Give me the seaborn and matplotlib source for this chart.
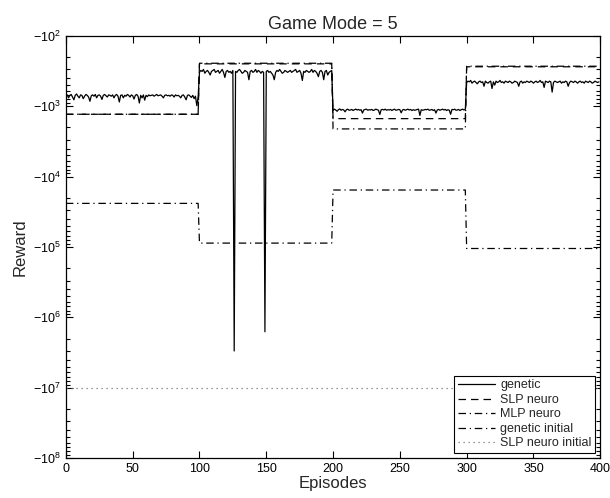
import numpy as np
import pandas as pd
import matplotlib
matplotlib.use("Agg")
import matplotlib.pyplot as plt
import seaborn as sns
from matplotlib.ticker import FuncFormatter, LogLocator

# segment boundaries (episodes)
seg_starts = [0, 100, 200, 300]
seg_len = 100

# genetic reward per episode, four segments
genetic_1 = [-720, -690, -760, -700, -680, -740, -810, -700, -670, -720,
             -760, -690, -700, -780, -720, -680, -700, -740, -850, -710,
             -690, -720, -680, -760, -700, -690, -720, -800, -700, -680,
             -710, -740, -690, -700, -720, -690, -760, -700, -680, -720,
             -870, -700, -690, -760, -700, -720, -680, -700, -740, -690,
             -710, -790, -700, -680, -720, -900, -700, -760, -690, -820,
             -700, -730, -690, -710, -700, -690, -720, -700, -680, -710,
             -700, -690, -720, -760, -700, -690, -710, -700, -720, -690,
             -700, -740, -690, -710, -700, -720, -760, -700, -690, -740,
             -810, -700, -690, -720, -750, -700, -780, -720, -980, -740]
genetic_2 = [-330, -310, -320, -300, -340, -320, -310, -330, -360, -320,
             -310, -300, -330, -320, -310, -340, -320, -300, -330, -390,
             -320, -310, -330, -320, -340, -310, -3000000, -320, -330, -310,
             -300, -320, -340, -330, -310, -320, -330, -420, -320, -310,
             -330, -320, -300, -330, -310, -320, -340, -320, -330, -1600000,
             -320, -310, -330, -320, -340, -360, -420, -330, -310, -320,
             -300, -320, -340, -330, -310, -320, -330, -320, -310, -330,
             -320, -310, -300, -330, -320, -310, -340, -430, -320, -330,
             -310, -320, -330, -320, -300, -330, -310, -320, -340, -380,
             -320, -310, -330, -420, -320, -310, -360, -330, -320, -310]
genetic_3 = [-1150, -1100, -1130, -1180, -1120, -1090, -1140, -1110, -1130, -1200,
             -1120, -1100, -1140, -1130, -1110, -1150, -1120, -1100, -1130, -1110,
             -1140, -1120, -1250, -1130, -1110, -1100, -1140, -1120, -1130, -1110,
             -1150, -1130, -1100, -1120, -1140, -1310, -1120, -1110, -1130, -1100,
             -1140, -1120, -1130, -1110, -1150, -1120, -1100, -1140, -1130, -1110,
             -1120, -1240, -1130, -1110, -1140, -1120, -1100, -1130, -1110, -1150,
             -1120, -1140, -1130, -1110, -1100, -1350, -1120, -1140, -1130, -1110,
             -1120, -1100, -1140, -1130, -1110, -1150, -1120, -1250, -1130, -1110,
             -1140, -1120, -1100, -1130, -1110, -1150, -1120, -1140, -1300, -1110,
             -1120, -1100, -1140, -1130, -1110, -1150, -1120, -1100, -1130, -1110]
genetic_4 = [-460, -440, -450, -430, -470, -450, -440, -460, -480, -450,
             -440, -460, -450, -520, -440, -460, -470, -450, -440, -560,
             -450, -500, -440, -460, -450, -430, -460, -450, -470, -440,
             -450, -460, -440, -450, -470, -460, -440, -450, -460, -520,
             -450, -440, -470, -450, -460, -440, -450, -460, -440, -450,
             -470, -450, -440, -460, -450, -430, -460, -450, -540, -440,
             -450, -460, -440, -450, -630, -460, -440, -450, -460, -450,
             -440, -470, -450, -460, -440, -450, -520, -460, -440, -450,
             -460, -440, -450, -470, -450, -440, -460, -450, -470, -440,
             -450, -460, -440, -450, -470, -460, -440, -450, -460, -450]

# flat levels per segment
slp_levels = [-1300, -250, -1500, -275]
mlp_levels = [-1300, -245, -2100, -270]
genetic_init_levels = [-24000, -88000, -15500, -105000]
slp_init_levels = [-1e7, -1e7, -1e7, -1e7]

episodes = np.arange(seg_starts[0], seg_starts[-1] + seg_len)
genetic = np.concatenate([genetic_1, genetic_2, genetic_3, genetic_4])


def level_frame(levels):
    xs, ys = [], []
    for s, v in zip(seg_starts, levels):
        xs += [s, s + seg_len - 1]
        ys += [v, v]
    return pd.DataFrame({"Episodes": xs, "Reward": -np.array(ys)})


sns.set_style("ticks")
plt.rcParams["font.family"] = ["Liberation Sans", "DejaVu Sans"]
plt.rcParams["mathtext.fontset"] = "custom"
plt.rcParams["mathtext.rm"] = "Liberation Sans"
plt.rcParams["mathtext.it"] = "Liberation Sans"
plt.rcParams["xtick.direction"] = "in"
plt.rcParams["ytick.direction"] = "in"

fig = plt.figure(figsize=(6.1, 4.98), dpi=100)
ax = fig.add_axes([0.108, 0.080, 0.876, 0.848])

gen_df = pd.DataFrame({"Episodes": episodes[:len(genetic)], "Reward": -genetic})
sns.lineplot(data=gen_df, x="Episodes", y="Reward", ax=ax, color="black",
             lw=0.9, linestyle="-", label="genetic")
sns.lineplot(data=level_frame(slp_levels), x="Episodes", y="Reward", ax=ax,
             color="black", lw=0.9, linestyle=(0, (6, 4)), label="SLP neuro")
sns.lineplot(data=level_frame(mlp_levels), x="Episodes", y="Reward", ax=ax,
             color="black", lw=0.9, linestyle=(0, (6, 3, 1, 3)), label="MLP neuro")
sns.lineplot(data=level_frame(genetic_init_levels), x="Episodes", y="Reward", ax=ax,
             color="black", lw=0.9, linestyle=(0, (6, 3, 1, 3)), label="genetic initial")
sns.lineplot(data=level_frame(slp_init_levels), x="Episodes", y="Reward", ax=ax,
             color="#777777", lw=0.9, linestyle=(0, (1, 3)), label="SLP neuro initial")

ax.set_yscale("log")
ax.set_ylim(1e8, 1e2)
ax.set_xlim(0, 400)
ax.set_xticks(np.arange(0, 401, 50))
ax.yaxis.set_major_locator(LogLocator(base=10, numticks=10))
ax.yaxis.set_minor_locator(LogLocator(base=10, subs=np.arange(2, 10), numticks=100))
ax.yaxis.set_major_formatter(FuncFormatter(
    lambda v, p: r"$-10^{%d}$" % int(round(np.log10(v)))))
ax.yaxis.set_minor_formatter(FuncFormatter(lambda v, p: ""))
ax.tick_params(which="both", top=True, right=True, labelsize=9, width=0.8, colors="black")
ax.tick_params(which="major", length=5)
ax.tick_params(which="minor", length=3)
for sp in ax.spines.values():
    sp.set_linewidth(0.9)
    sp.set_color("black")

ax.set_xlabel("Episodes", fontsize=12, labelpad=1)
ax.set_ylabel("Reward", fontsize=12, labelpad=4)
ax.set_title("Game Mode = 5", fontsize=13, pad=5)

leg = ax.legend(loc="lower right", fontsize=9, frameon=True, fancybox=False,
                borderaxespad=0.4, handlelength=3.0, labelspacing=0.2,
                borderpad=0.3, handletextpad=0.4)
leg.get_frame().set_edgecolor("black")
leg.get_frame().set_linewidth(0.8)
leg.get_frame().set_alpha(1)

fig.savefig("out.png", dpi=100)
